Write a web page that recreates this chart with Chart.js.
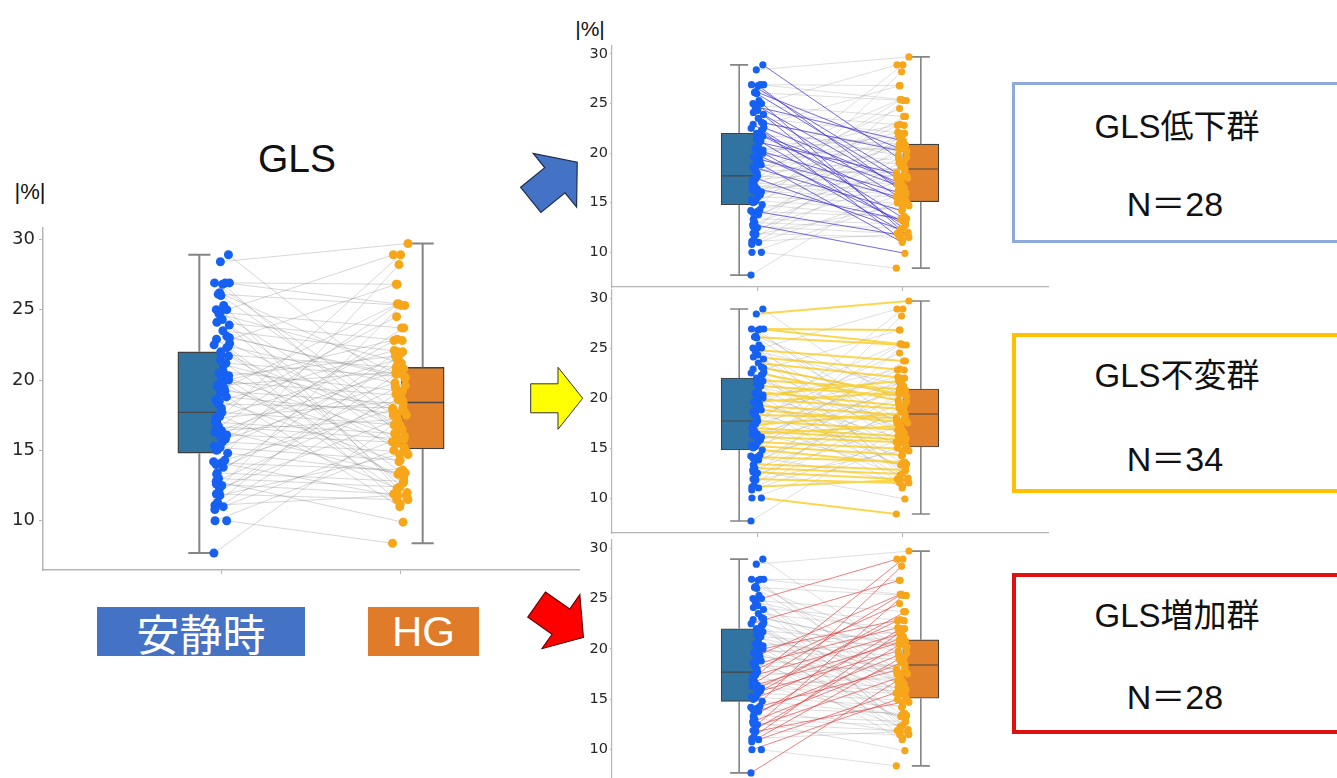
<!DOCTYPE html>
<html>
<head>
<meta charset="utf-8">
<script src="https://cdn.jsdelivr.net/npm/chart.js@4"></script>
<style>
  body { margin: 0; width: 1337px; height: 778px; overflow: hidden; position: relative; background: #fff; }
  canvas, .txt, .frame, .tag, svg { position: absolute; }
  .txt { font-family: "Liberation Sans", "Noto Sans CJK JP", sans-serif; color: #111; white-space: nowrap; transform: translate(-50%, -50%); }
  .frame { left: 1012px; width: 400px; box-sizing: border-box; background: #fff; }
  .tag { top: 607px; height: 49px; color: #fff; font-family: "Liberation Sans", "Noto Sans CJK JP", sans-serif;
         display: flex; align-items: center; justify-content: center; }
</style>
</head>
<body>

<svg width="1337" height="778" style="left:0;top:0">
  <polygon points="-26,-14 1,-14 1,-30 26,0 1,30 1,14 -26,14" fill="#4472c4" stroke="#1e2a48" stroke-width="1"
           transform="translate(554,181) rotate(-39) scale(1.15)"/>
  <polygon points="-26,-14.5 1.3,-14.5 1.3,-31 26,0 1.3,31 1.3,14.5 -26,14.5" fill="#ffff00" stroke="#333" stroke-width="1"
           transform="translate(556.7,398.3)"/>
  <polygon points="-26,-14 1,-14 1,-30 26,0 1,30 1,14 -26,14" fill="#ff0000" stroke="#5a0000" stroke-width="1"
           transform="translate(560,621) rotate(35) scale(1.1)"/>
</svg>

<div class="txt" style="left:297px;top:159px;font-size:39px">GLS</div>
<div class="txt" style="left:30px;top:192px;font-size:22px">|%|</div>
<div class="txt" style="left:590px;top:29px;font-size:21px">|%|</div>

<canvas id="main" width="590" height="360" style="left:0;top:220px"></canvas>
<canvas id="down" width="490" height="259" style="left:570px;top:38px"></canvas>
<canvas id="same" width="490" height="261" style="left:570px;top:282px"></canvas>
<canvas id="up" width="490" height="263" style="left:570px;top:532px"></canvas>

<div id="tagRest" class="tag" style="left:97px;width:208px;background:#4472c4;font-size:43px"></div>
<div id="tagHG" class="tag" style="left:368px;width:111px;background:#e07b2a;font-size:42px"></div>

<div class="frame" style="top:82px;height:161px;border:3px solid #8eaadb"></div>
<div class="frame" style="top:333px;height:160px;border:4px solid #ffc000"></div>
<div class="frame" style="top:573px;height:161px;border:4px solid #e01010"></div>
<div class="txt" style="left:1177px;top:124px;font-size:33px">GLS低下群</div>
<div class="txt" style="left:1175px;top:201px;font-size:34px">N＝28</div>
<div class="txt" style="left:1177px;top:373px;font-size:33px">GLS不変群</div>
<div class="txt" style="left:1175px;top:456px;font-size:34px">N＝34</div>
<div class="txt" style="left:1177px;top:613px;font-size:33px">GLS増加群</div>
<div class="txt" style="left:1175px;top:694px;font-size:34px">N＝28</div>

<script>
// categories (x = 0 rest, x = 1 hand grip)
const categories = ['安静時', 'HG'];
const yTicks = [10, 15, 20, 25, 30];

// box stats: [lower whisker, Q1, median, Q3, upper whisker]
const restBox = [7.7, 14.8, 17.7, 22.0, 28.9];
const hgBox = [8.4, 15.1, 18.4, 20.9, 29.7];

// paired |GLS| values, GLS decrease group (n=28)
const downRest = [28.9, 26.9, 26.8, 26.2, 26.0, 25.3, 25.0, 24.7, 24.3, 23.9, 23.1, 22.9, 22.6, 22.3,
                  22.0, 21.7, 21.4, 21.1, 20.5, 20.2, 19.8, 19.4, 19.1, 18.6, 17.5, 16.4, 14.2, 12.8];
const downHG =   [19.5, 18.0, 16.3, 20.5, 17.5, 11.5, 16.8, 21.3, 12.0, 15.2, 20.1, 13.5, 17.0, 11.2,
                  16.5, 14.7, 12.7, 17.7, 11.8, 16.0, 13.0, 15.5, 11.0, 14.2, 12.3, 13.3, 11.6, 9.9];

// GLS unchanged group (n=34)
const sameRest = [28.4, 26.9, 26.9, 26.1, 24.8, 24.1, 23.5, 23.0, 22.4, 21.8, 21.2, 20.6, 20.3, 19.9, 19.6, 19.2, 18.8,
                  18.3, 17.7, 17.3, 17.0, 16.7, 16.4, 16.1, 15.6, 15.2, 14.8, 14.1, 13.4, 13.0, 12.6, 11.9, 11.1, 10.0];
const sameHG =   [29.7, 26.8, 25.4, 25.3, 23.7, 22.8, 22.0, 20.4, 19.6, 20.9, 20.2, 19.2, 21.7, 18.9, 20.6, 18.3, 17.6,
                  18.0, 16.8, 18.5, 16.2, 15.8, 17.2, 15.6, 14.9, 14.3, 13.4, 13.6, 12.8, 12.4, 11.9, 11.5, 11.8, 8.4];

// GLS increase group (n=28)
const upRest = [7.7, 10.0, 10.8, 11.0, 11.3, 11.8, 12.0, 12.3, 12.5, 12.8, 22.5, 13.3, 13.8, 14.0,
                14.3, 15.0, 15.3, 15.8, 16.0, 16.3, 16.6, 17.0, 17.4, 18.0, 18.5, 19.3, 20.0, 25.0];
const upHG =   [17.5, 15.0, 19.0, 16.0, 21.8, 14.7, 20.5, 17.2, 25.3, 18.6, 26.8, 22.0, 19.4, 28.2,
                17.9, 21.2, 23.7, 19.8, 22.8, 20.8, 25.4, 28.9, 21.5, 24.5, 22.1, 25.4, 22.9, 28.9];

document.getElementById('tagRest').textContent = categories[0];
document.getElementById('tagHG').textContent = categories[1];

const groups = [
  { key: 'down', rest: downRest, hg: downHG, color: 'rgba(70,55,215,0.75)', width: 1 },
  { key: 'same', rest: sameRest, hg: sameHG, color: 'rgba(250,200,20,0.75)', width: 2 },
  { key: 'up', rest: upRest, hg: upHG, color: 'rgba(228,60,60,0.65)', width: 1 }
];

// deterministic strip jitter (hash of the index) so dots don't sit on one vertical line
const jit = (i, s) => {
  const v = Math.sin((i + 1) * (s ? 78.233 : 12.9898)) * 43758.5453;
  return (v - Math.floor(v) - 0.5) * 0.09;
};

function pairLines(list) {
  const out = [];
  list.forEach(({ r, h, i }) => {
    out.push({ x: jit(i, 0), y: r }, { x: 1 + jit(i, 1), y: h }, { x: 0.5, y: null });
  });
  return out;
}

function boxLines(stats, cx, cap) {
  const [lo, q1, , q3, hi] = stats;
  return [
    { x: cx, y: lo }, { x: cx, y: q1 }, { x: cx, y: null },
    { x: cx, y: q3 }, { x: cx, y: hi }, { x: cx, y: null },
    { x: cx - cap, y: lo }, { x: cx + cap, y: lo }, { x: cx, y: null },
    { x: cx - cap, y: hi }, { x: cx + cap, y: hi }
  ];
}

function medianLine(stats, cx, half) {
  return [{ x: cx - half, y: stats[2] }, { x: cx + half, y: stats[2] }];
}

function noPad(s) {
  s.paddingTop = 0; s.paddingBottom = 0; s.paddingLeft = 0; s.paddingRight = 0;
}

function buildChart(id, o) {
  let idx = 0;
  const all = [];
  groups.forEach(g => {
    g.rest.forEach((r, k) => { all.push({ r, h: g.hg[k], i: idx++, key: g.key }); });
  });

  const grey = all.filter(p => p.key !== o.hi);
  const datasets = [
    {
      type: 'line', data: pairLines(grey), borderColor: o.grey, borderWidth: 1,
      pointRadius: 0, spanGaps: false, tension: 0, order: 9
    },
    {
      type: 'bar',
      data: [{ x: -0.125, y: [restBox[1], restBox[3]] }, { x: 1.125, y: [hgBox[1], hgBox[3]] }],
      backgroundColor: ['#3274a1', '#e1812c'], borderColor: '#3f3f3f', borderWidth: o.edge,
      borderSkipped: false, barThickness: o.boxPx, order: 8
    },
    {
      type: 'line', data: boxLines(restBox, -0.125, 0.062).concat([{ x: 0, y: null }], boxLines(hgBox, 1.125, 0.062)),
      borderColor: '#858585', borderWidth: o.whisker, pointRadius: 0, spanGaps: false, tension: 0, order: 7
    },
    {
      type: 'line', data: medianLine(restBox, -0.125, o.half).concat([{ x: 0.5, y: null }], medianLine(hgBox, 1.125, o.half)),
      borderColor: '#464646', borderWidth: o.edge, pointRadius: 0, spanGaps: false, tension: 0, order: 6
    }
  ];

  const hiGroup = groups.find(g => g.key === o.hi);
  if (hiGroup) {
    datasets.push({
      type: 'line', data: pairLines(all.filter(p => p.key === o.hi)), borderColor: hiGroup.color,
      borderWidth: hiGroup.width, pointRadius: 0, spanGaps: false, tension: 0, order: 3
    });
  }

  datasets.push(
    {
      type: 'scatter', data: all.map(p => ({ x: jit(p.i, 0), y: p.r })),
      backgroundColor: '#1660f2', borderWidth: 0, pointRadius: o.dot, order: 2
    },
    {
      type: 'scatter', data: all.map(p => ({ x: 1 + jit(p.i, 1), y: p.h })),
      backgroundColor: '#f7a61a', borderWidth: 0, pointRadius: o.dot, order: 1
    }
  );

  new Chart(document.getElementById(id), {
    type: 'scatter',
    data: { datasets },
    options: {
      responsive: false,
      animation: false,
      layout: { padding: { top: 8, right: o.padRight, bottom: 0, left: 0 } },
      plugins: { legend: { display: false }, tooltip: { enabled: false } },
      scales: {
        x: {
          type: 'linear', min: -1, max: 2, offset: false,
          afterBuildTicks: s => { s.ticks = [{ value: 0 }, { value: 1 }]; },
          afterFit: s => { s.height = 10; noPad(s); },
          ticks: { display: false },
          grid: { offset: false, drawOnChartArea: false, drawTicks: true, tickLength: 4, color: '#b5b5b5' },
          border: { display: true, color: '#b5b5b5', width: o.axis }
        },
        y: {
          type: 'linear', min: 6.5, max: 30.8,
          afterBuildTicks: s => { s.ticks = yTicks.map(v => ({ value: v })); },
          afterFit: s => { s.width = o.axisW; noPad(s); },
          ticks: { font: { family: 'DejaVu Sans', size: o.font }, color: '#262626', padding: o.tickPad },
          grid: { drawOnChartArea: false, drawTicks: true, tickLength: o.tickLen, color: '#b5b5b5' },
          border: { display: true, color: '#b5b5b5', width: o.axis }
        }
      }
    }
  });
}

const mainOpts = { hi: null, grey: 'rgba(110,110,110,0.28)', boxPx: 43, half: 0.12, edge: 1.4, whisker: 2,
                   dot: 4.5, font: 18, axisW: 43, padRight: 11, axis: 1.5, tickLen: 4, tickPad: 4 };
const sideOpts = { grey: 'rgba(150,150,150,0.3)', boxPx: 36, half: 0.124, edge: 1.2, whisker: 1.6,
                   dot: 3.6, font: 14.5, axisW: 42, padRight: 12, axis: 1.2, tickLen: 2, tickPad: 2 };

buildChart('main', mainOpts);
buildChart('down', Object.assign({}, sideOpts, { hi: 'down' }));
buildChart('same', Object.assign({}, sideOpts, { hi: 'same' }));
buildChart('up', Object.assign({}, sideOpts, { hi: 'up' }));
</script>
</body>
</html>
